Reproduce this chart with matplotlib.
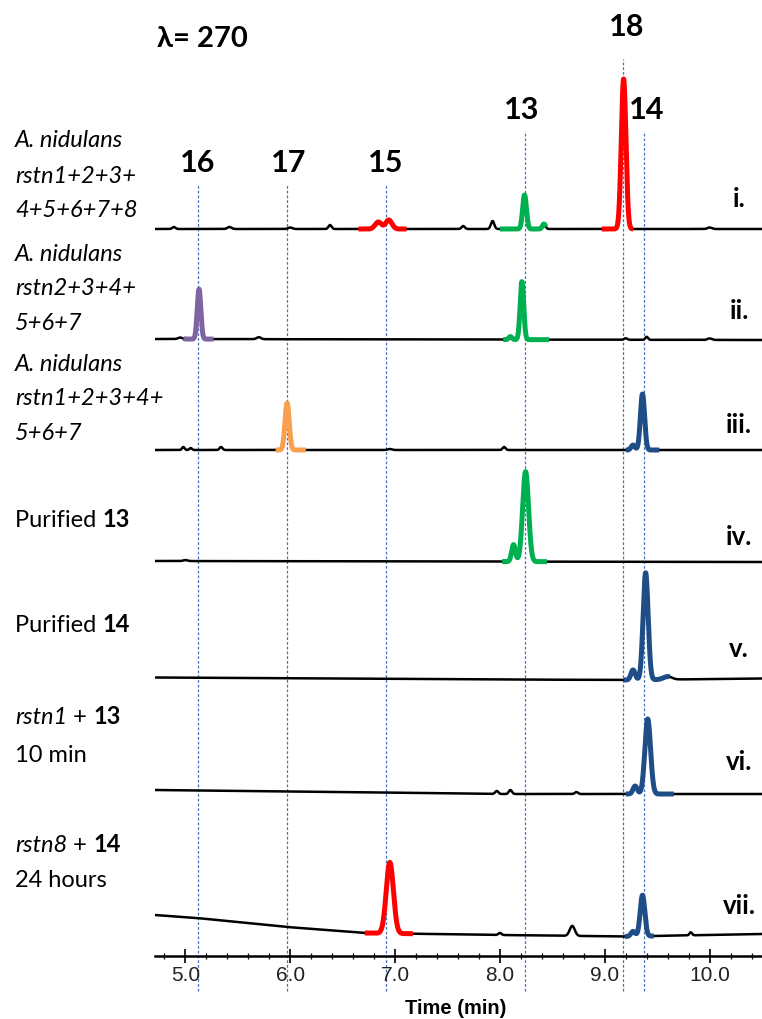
import numpy as np
import matplotlib
matplotlib.use("Agg")
import matplotlib.pyplot as plt

W, H, DPI = 762, 1019, 100

# ---------------- data ----------------
x_range = (4.71, 10.5)
major_ticks = [5.0, 6.0, 7.0, 8.0, 9.0, 10.0]
major_labels = ["5.0", "6.0", "7.0", "8.0", "9.0", "10.0"]
minor_ticks = [4.8, 5.2, 5.4, 5.6, 5.8, 6.2, 6.4, 6.6, 6.8, 7.2, 7.4, 7.6, 7.8,
               8.2, 8.4, 8.6, 8.8, 9.2, 9.4, 9.6, 9.8, 10.2, 10.4]

# compound reference lines: label and retention time
compound_labels = ["16", "17", "15", "13", "18", "14"]
compound_rt = [5.124, 5.969, 6.914, 8.235, 9.175, 9.371]

trace_names = ["i.", "ii.", "iii.", "iv.", "v.", "vi.", "vii."]

# baselines: (time, level) anchors per trace
base_i = [(4.71, 727), (10.5, 727)]
base_ii = [(4.71, 617), (10.5, 616)]
base_iii = [(4.71, 506), (10.5, 506)]
base_iv = [(4.71, 395), (10.5, 394)]
base_v = [(4.71, 278.5), (8.0, 276.5), (9.2, 276), (10.5, 277.5)]
base_vi = [(4.71, 166), (6.5, 164), (8.0, 162), (10.5, 162)]
base_vii = [(4.71, 41), (5.11, 38), (5.97, 29), (6.71, 23), (8.0, 21), (9.2, 19.5), (10.5, 22)]

# peaks: (retention time, height, sigma)
peaks_i = [(4.89, 2, 0.015), (5.42, 2, 0.02), (6.0, 1.5, 0.02), (6.38, 4, 0.015),
           (6.84, 7, 0.03), (6.94, 9, 0.03), (7.65, 3, 0.015), (7.93, 8, 0.016),
           (8.235, 34, 0.018), (8.42, 5, 0.015), (9.18, 150, 0.022), (10.0, 1.5, 0.02)]
peaks_ii = [(4.95, 1.5, 0.02), (5.13, 50, 0.017), (5.7, 2, 0.02), (8.1, 3, 0.015),
            (8.21, 58, 0.017), (9.2, 1.5, 0.015), (9.4, 3, 0.013), (10.0, 1.5, 0.02)]
peaks_iii = [(4.98, 3, 0.012), (5.05, 2, 0.012), (5.34, 3, 0.014), (5.97, 47, 0.02),
             (6.95, 1, 0.02), (8.04, 3, 0.014), (9.27, 5, 0.018), (9.36, 56, 0.02)]
peaks_iv = [(5.0, 1, 0.02), (8.13, 17, 0.018), (8.245, 90, 0.028)]
peaks_v = [(9.27, 10, 0.02), (9.39, 107, 0.024), (9.6, 3, 0.04)]
peaks_vi = [(7.97, 3, 0.015), (8.1, 4, 0.015), (8.73, 2, 0.015), (9.29, 8, 0.02), (9.41, 75, 0.027)]
peaks_vii = [(6.95, 71, 0.034), (8.0, 2, 0.015), (8.69, 10, 0.024), (9.27, 5, 0.02),
             (9.36, 41, 0.022), (9.82, 3, 0.012)]

# highlighted (coloured) segments: (start, end, compound)
segs_i = [(6.65, 7.11, "15"), (8.0, 8.44, "13"), (8.97, 9.27, "18")]
segs_ii = [(4.98, 5.27, "16"), (8.03, 8.47, "13")]
segs_iii = [(5.86, 6.15, "17"), (9.2, 9.52, "14")]
segs_iv = [(8.02, 8.45, "13")]
segs_v = [(9.18, 9.62, "14")]
segs_vi = [(9.2, 9.66, "14")]
segs_vii = [(6.71, 7.17, "15"), (9.19, 9.47, "14")]

# ---------------- style ----------------
colors = {"13": "#00B050", "14": "#1F4E86", "15": "#FF0000", "16": "#8064A2",
          "17": "#F8A04E", "18": "#FF0000"}
FONT = "Lato"

fig = plt.figure(figsize=(W / DPI, H / DPI), dpi=DPI)
AX_L, AX_BOT = 155, 956
ax = fig.add_axes([AX_L / W, (H - AX_BOT) / H, (W - AX_L) / W, AX_BOT / H])
ax.set_xlim(*x_range)
ax.set_ylim(0, AX_BOT)
for s in ["top", "right", "left"]:
    ax.spines[s].set_visible(False)
ax.spines["bottom"].set_linewidth(1.8)
ax.set_yticks([])
ax.set_xticks(major_ticks)
ax.set_xticklabels(major_labels, fontfamily="Liberation Sans", fontsize=15, color="#222222")
ax.set_xticks(minor_ticks, minor=True)
ax.tick_params(axis="x", which="major", direction="inout", length=10, width=1.2, pad=2)
ax.tick_params(axis="x", which="minor", direction="inout", length=5, width=0.9)


def fxy(px, py):
    return px / W, 1 - py / H


fig.text(*fxy(456, 1008), "Time (min)", ha="center", va="center",
         fontfamily="Liberation Sans", fontsize=14.5, fontweight="bold")

# dashed reference lines
line_tops = [772, 772, 772, 825, 897, 825]
for rt, top in zip(compound_rt, line_tops):
    ax.plot([rt, rt], [-35, top], ls=(0, (2.2, 1.6)), lw=0.9, color="#4472C4",
            clip_on=False, zorder=1)

t = np.linspace(x_range[0], x_range[1], 4000)
bases = [base_i, base_ii, base_iii, base_iv, base_v, base_vi, base_vii]
peaks = [peaks_i, peaks_ii, peaks_iii, peaks_iv, peaks_v, peaks_vi, peaks_vii]
segs = [segs_i, segs_ii, segs_iii, segs_iv, segs_v, segs_vi, segs_vii]

for b, pk, sg in zip(bases, peaks, segs):
    bt, bv = zip(*b)
    y = np.interp(t, bt, bv)
    for rt, h, s in pk:
        y = y + h * np.exp(-0.5 * ((t - rt) / s) ** 2)
    ax.plot(t, y, color="black", lw=1.8, zorder=2, solid_capstyle="round")
    for a, e, c in sg:
        m = (t >= a) & (t <= e)
        ax.plot(t[m], y[m], color=colors[c], lw=3.6, zorder=3, solid_capstyle="butt")

# compound number labels
label_pos = [(198, 163), (289, 163), (386, 163), (522, 110), (627, 27), (647, 110)]
for lab, (px, py) in zip(compound_labels, label_pos):
    fig.text(*fxy(px, py), lab, ha="center", va="center", fontsize=22,
             fontweight="bold", fontfamily=FONT)

fig.text(*fxy(157, 39), "λ= 270", ha="left", va="center", fontsize=21,
         fontweight="bold", fontfamily=["Lato", "DejaVu Sans"])

# trace roman numerals (baseline y in px)
name_y = [207, 319, 433, 545, 657, 770, 914]
for nm, py in zip(trace_names, name_y):
    fig.text(*fxy(739, py), nm, ha="center", va="baseline", fontsize=18.5,
             fontweight="bold", fontfamily=FONT)

# left sample labels: each line = list of (text, style)
I, N, B = ("italic", "normal"), ("normal", "normal"), ("normal", "bold")
left_labels = [
    (147, [("A. nidulans", I)]), (183, [("rstn1+2+3+", I)]), (217, [("4+5+6+7+8", I)]),
    (261, [("A. nidulans", I)]), (295, [("rstn2+3+4+", I)]), (330, [("5+6+7", I)]),
    (371, [("A. nidulans", I)]), (405, [("rstn1+2+3+4+", I)]), (440, [("5+6+7", I)]),
    (527, [("Purified ", N), ("13", B)]),
    (632, [("Purified ", N), ("14", B)]),
    (724, [("rstn1", I), (" + ", N), ("13", B)]), (762, [("10 min", N)]),
    (852, [("rstn8", I), (" + ", N), ("14", B)]), (887, [("24 hours", N)]),
]
fig.canvas.draw()
rend = fig.canvas.get_renderer()
for py, pieces in left_labels:
    px = 15
    for txt, (st, wt) in pieces:
        tt = fig.text(*fxy(px, py), txt, ha="left", va="baseline", fontsize=17,
                      fontstyle=st, fontweight=wt, fontfamily=FONT)
        bb = tt.get_window_extent(renderer=rend)
        px += bb.width

fig.savefig("out.png", dpi=DPI)
